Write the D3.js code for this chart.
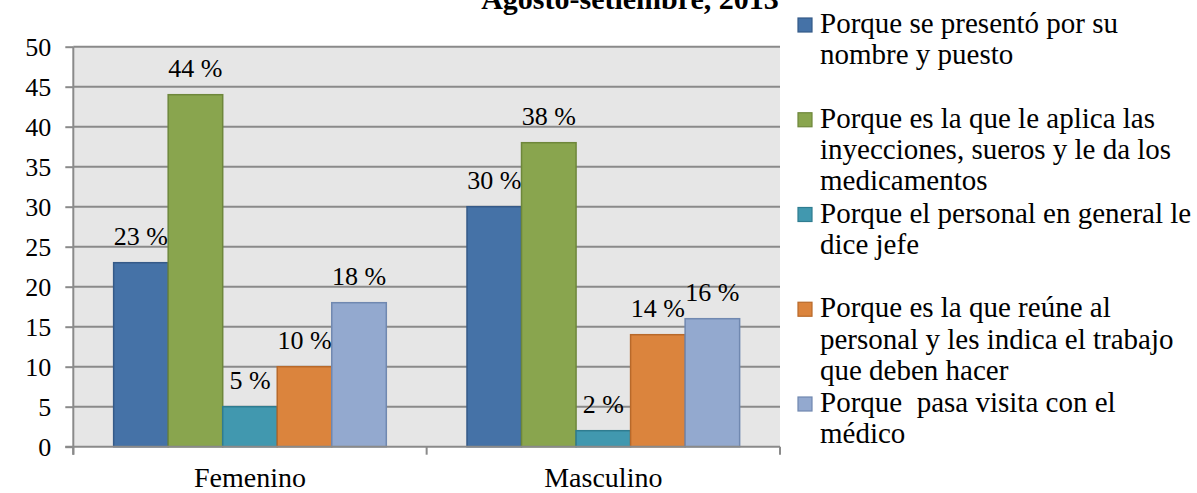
<!DOCTYPE html>
<html lang="es">
<head>
<meta charset="utf-8">
<script src="https://cdn.jsdelivr.net/npm/d3@7/dist/d3.min.js"></script>
<style>
  html, body { margin: 0; padding: 0; background: #ffffff; }
  svg { display: block; }
  svg text { font-family: "Liberation Serif", "Times New Roman", serif; }
</style>
</head>
<body>
<svg id="chart" width="1197" height="493"></svg>
<script>
// Categories (sex of respondent)
const categories = ["Femenino", "Masculino"];

// Reasons given (one series each)
const seriesNames = [
  "Porque se presentó por su nombre y puesto",
  "Porque es la que le aplica las inyecciones, sueros y le da los medicamentos",
  "Porque el personal en general le dice jefe",
  "Porque es la que reúne al personal y les indica el trabajo que deben hacer",
  "Porque  pasa visita con el médico"
];

// Legend text, broken into lines
const legendLines = [
  ["Porque se presentó por su", "nombre y puesto"],
  ["Porque es la que le aplica las", "inyecciones, sueros y le da los", "medicamentos"],
  ["Porque el personal en general le", "dice jefe"],
  ["Porque es la que reúne al", "personal y les indica el trabajo", "que deben hacer"],
  ["Porque  pasa visita con el", "médico"]
];

// Percentages per series, for each category
const valuesFemenino  = [23, 44, 5, 10, 18];
const valuesMasculino = [30, 38, 2, 14, 16];

// Y axis ticks
const yTicks = [0, 5, 10, 15, 20, 25, 30, 35, 40, 45, 50];

const titleText = "Agosto-setiembre, 2013";

const palette = ["#4572A7", "#89A54E", "#4198AF", "#DB843D", "#93A9CF"];
const strokes = ["#355a88", "#6e873b", "#2f7c90", "#b8692a", "#7088b0"];

const SERIF = "Liberation Serif, Times New Roman, serif";

const svg = d3.select("#chart");
const plot = { left: 73.3, right: 780, top: 46.7, bottom: 446.7 };

const x0 = d3.scaleBand().domain(categories).range([plot.left, plot.right]).padding(0);
const x1 = d3.scaleBand().domain(d3.range(seriesNames.length))
  .range([0, x0.bandwidth()]).paddingInner(0).paddingOuter(0.74);
const y = d3.scaleLinear().domain([0, 50]).range([plot.bottom, plot.top]);

const rows = categories.map((c, i) => ({
  cat: c,
  values: i === 0 ? valuesFemenino : valuesMasculino
}));

// Title (partly outside the top edge)
svg.append("text")
  .attr("x", 630).attr("y", 9)
  .attr("text-anchor", "middle")
  .attr("font-family", SERIF)
  .attr("font-weight", "bold")
  .attr("font-size", 30)
  .text(titleText);

// Plot background
svg.append("rect")
  .attr("x", plot.left).attr("y", plot.top)
  .attr("width", plot.right - plot.left).attr("height", plot.bottom - plot.top)
  .attr("fill", "#e6e6e6");

// Horizontal gridlines
svg.append("g").selectAll("line").data(yTicks.filter(t => t > 0)).join("line")
  .attr("x1", plot.left).attr("x2", plot.right)
  .attr("y1", d => y(d)).attr("y2", d => y(d))
  .attr("stroke", "#8a8a8a").attr("stroke-width", 2);

// Bars
const groups = svg.append("g").selectAll("g").data(rows).join("g")
  .attr("transform", d => `translate(${x0(d.cat)},0)`);

groups.selectAll("rect").data(d => d.values.map((v, i) => ({ v, i }))).join("rect")
  .attr("x", d => x1(d.i))
  .attr("y", d => y(d.v))
  .attr("width", x1.bandwidth())
  .attr("height", d => y(0) - y(d.v))
  .attr("fill", d => palette[d.i])
  .attr("stroke", d => strokes[d.i])
  .attr("stroke-width", 1.5);

groups.selectAll("text").data(d => d.values.map((v, i) => ({ v, i }))).join("text")
  .attr("x", d => x1(d.i) + x1.bandwidth() / 2)
  .attr("y", d => y(d.v) - 18)
  .attr("text-anchor", "middle")
  .attr("font-family", SERIF)
  .attr("font-size", 26)
  .attr("fill", "#000")
  .text(d => `${d.v} %`);

// Y axis
const yAxis = svg.append("g")
  .attr("transform", `translate(${plot.left},0)`)
  .call(d3.axisLeft(y).tickValues(yTicks).tickSize(8).tickPadding(14));
yAxis.attr("font-family", SERIF);
yAxis.select(".domain").remove();
yAxis.selectAll(".tick line").attr("stroke", "#8a8a8a").attr("stroke-width", 2);
yAxis.selectAll(".tick text")
  .attr("font-family", SERIF)
  .attr("font-size", 26).attr("fill", "#000");
svg.append("line")
  .attr("x1", plot.left).attr("x2", plot.left)
  .attr("y1", plot.top).attr("y2", plot.bottom + 8)
  .attr("stroke", "#8a8a8a").attr("stroke-width", 2);

// X axis
svg.append("line")
  .attr("x1", plot.left - 8).attr("x2", plot.right)
  .attr("y1", plot.bottom).attr("y2", plot.bottom)
  .attr("stroke", "#8a8a8a").attr("stroke-width", 2);
const boundaries = [plot.left, ...categories.slice(1).map(c => x0(c)), plot.right];
svg.append("g").selectAll("line").data(boundaries).join("line")
  .attr("x1", d => d).attr("x2", d => d)
  .attr("y1", plot.bottom).attr("y2", plot.bottom + 8)
  .attr("stroke", "#8a8a8a").attr("stroke-width", 2);
svg.append("g").selectAll("text").data(categories).join("text")
  .attr("x", d => x0(d) + x0.bandwidth() / 2)
  .attr("y", 487)
  .attr("text-anchor", "middle")
  .attr("font-family", SERIF)
  .attr("font-size", 28)
  .text(d => d);

// Legend
const legend = svg.append("g");
const entryStep = 94.75;
legendLines.forEach((lines, i) => {
  const baseY = 33 + i * entryStep;
  legend.append("rect")
    .attr("x", 798).attr("y", baseY - 15)
    .attr("width", 14).attr("height", 14)
    .attr("fill", palette[i]).attr("stroke", strokes[i]).attr("stroke-width", 1.2);
  const t = legend.append("text")
    .attr("x", 820).attr("y", baseY)
    .attr("font-family", SERIF)
    .attr("font-size", 29)
    .style("white-space", "pre");
  lines.forEach((ln, j) => {
    t.append("tspan").attr("x", 820).attr("y", baseY + j * 31.3).text(ln);
  });
});
</script>
</body>
</html>
